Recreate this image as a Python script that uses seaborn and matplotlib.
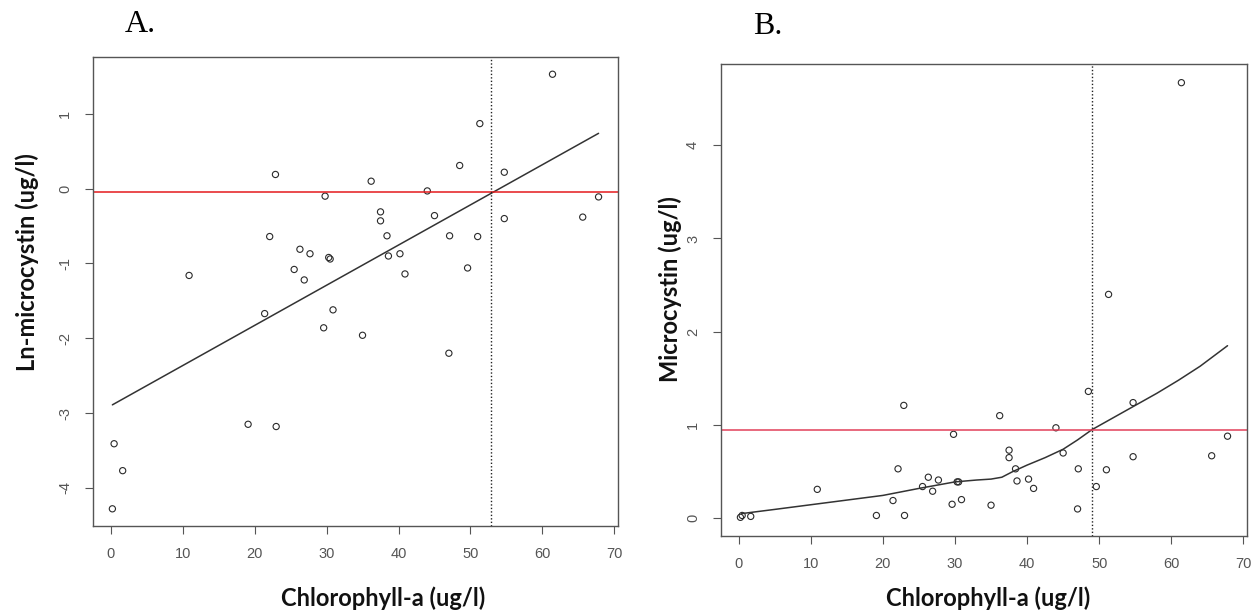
import numpy as np
import pandas as pd
import matplotlib
matplotlib.use('Agg')
import matplotlib.pyplot as plt
import seaborn as sns

# chlorophyll-a (ug/l), shared by both panels
chl = [0.24, 0.48, 1.67, 10.9, 19.1, 21.4, 22.1, 22.9, 23.0, 25.5,
       26.3, 26.9, 27.7, 29.6, 29.8, 30.3, 30.5, 30.9, 35.0, 36.2,
       37.5, 37.5, 38.4, 38.6, 40.2, 40.9, 44.0, 45.0, 47.0, 47.1,
       48.5, 49.6, 51.0, 51.3, 54.7, 54.7, 61.4, 65.6, 67.8]

# panel A: ln microcystin
ln_mc = [-4.28, -3.41, -3.77, -1.16, -3.15, -1.67, -0.64, 0.19, -3.18, -1.08,
         -0.81, -1.22, -0.87, -1.86, -0.10, -0.92, -0.94, -1.62, -1.96, 0.10,
         -0.31, -0.43, -0.63, -0.90, -0.87, -1.14, -0.03, -0.36, -2.20, -0.63,
         0.31, -1.06, -0.64, 0.87, 0.22, -0.40, 1.53, -0.38, -0.11]

# panel B: microcystin
mc = [0.01, 0.03, 0.02, 0.31, 0.03, 0.19, 0.53, 1.21, 0.03, 0.34,
      0.44, 0.29, 0.41, 0.15, 0.90, 0.39, 0.39, 0.20, 0.14, 1.10,
      0.73, 0.65, 0.53, 0.40, 0.42, 0.32, 0.97, 0.70, 0.10, 0.53,
      1.36, 0.34, 0.52, 2.40, 1.24, 0.66, 4.67, 0.67, 0.88]

# fitted lines
fit_a_x = [0.24, 67.8]
fit_a_y = [-2.89, 0.74]
fit_b_x = [0.4, 5, 10, 15, 20, 25, 30, 33, 35, 36.5, 38, 40, 42.5, 45, 47,
           49, 52, 55, 58, 61, 64, 67.8]
fit_b_y = [0.05, 0.095, 0.145, 0.195, 0.245, 0.32, 0.39, 0.41, 0.42, 0.44,
           0.50, 0.57, 0.65, 0.74, 0.84, 0.95, 1.08, 1.21, 1.34, 1.48, 1.63, 1.85]

# thresholds (horizontal guideline, vertical crossing)
thr_a = (-0.05, 52.9)
thr_b = (0.95, 49.0)

x_ticks = [0, 10, 20, 30, 40, 50, 60, 70]
y_ticks_a = [-4, -3, -2, -1, 0, 1]
y_ticks_b = [0, 1, 2, 3, 4]

df = pd.DataFrame({'chl': chl, 'ln_mc': ln_mc, 'mc': mc})

sns.set_style('white')
plt.rcParams['font.family'] = ['Liberation Sans', 'DejaVu Sans']
plt.rcParams['axes.unicode_minus'] = False

fig = plt.figure(figsize=(12.51, 6.12), dpi=100)
ax_a = fig.add_axes([0.0743, 0.1405, 0.4197, 0.7663])
ax_b = fig.add_axes([0.5763, 0.1242, 0.4205, 0.7712])

grey = '#555555'


def draw_panel(ax, ycol, fx, fy, thr, red, xlim, ylim, yticks):
    sns.lineplot(x=fx, y=fy, ax=ax, color='#333333', linewidth=1.1,
                 sort=False, estimator=None)
    ax.axhline(thr[0], color=red, linewidth=1.1)
    ax.axvline(thr[1], color='#222222', linewidth=1.0, linestyle=(0, (1, 1.5)))
    sns.scatterplot(data=df, x='chl', y=ycol, ax=ax, s=20, marker='o')
    pts = ax.collections[-1]
    pts.set_facecolor('none')
    pts.set_edgecolor('#2a2a2a')
    pts.set_linewidth(0.8)
    ax.set_xlim(*xlim)
    ax.set_ylim(*ylim)
    ax.set_xticks(x_ticks)
    ax.set_yticks(yticks)
    ax.set_xlabel('')
    ax.set_ylabel('')
    ax.tick_params(axis='both', direction='out', length=6, width=0.8,
                   color=grey, labelcolor=grey, labelsize=10.5, pad=9,
                   bottom=True, left=True)
    for lab in ax.get_yticklabels():
        lab.set_rotation(90)
        lab.set_va('center')
    for sp in ax.spines.values():
        sp.set_visible(True)
        sp.set_color(grey)
        sp.set_linewidth(1.0)


draw_panel(ax_a, 'ln_mc', fit_a_x, fit_a_y, thr_a, '#e41a1c',
           (-2.46, 70.5), (-4.51, 1.76), y_ticks_a)
draw_panel(ax_b, 'mc', fit_b_x, fit_b_y, thr_b, '#e2405a',
           (-2.46, 70.5), (-0.19, 4.87), y_ticks_b)

lab_font = dict(family=['Lato', 'DejaVu Sans'], fontweight='bold', fontsize=17,
                color='#111111')
fig.text(383 / 1251, 1 - 598 / 612, 'Chlorophyll-a (ug/l)', ha='center', va='center', **lab_font)
fig.text(988 / 1251, 1 - 598 / 612, 'Chlorophyll-a (ug/l)', ha='center', va='center', **lab_font)
fig.text(27 / 1251, 1 - 262 / 612, 'Ln-microcystin (ug/l)', rotation=90,
         ha='center', va='center', **lab_font)
fig.text(670 / 1251, 1 - 289 / 612, 'Microcystin (ug/l)', rotation=90,
         ha='center', va='center', **lab_font)

title_font = dict(family=['Liberation Serif', 'DejaVu Serif'], fontsize=23, color='black')
fig.text(140 / 1251, 1 - 24 / 612, 'A.', ha='center', va='center', **title_font)
fig.text(768 / 1251, 1 - 27 / 612, 'B.', ha='center', va='center', **title_font)

fig.savefig('out.png', dpi=100)
